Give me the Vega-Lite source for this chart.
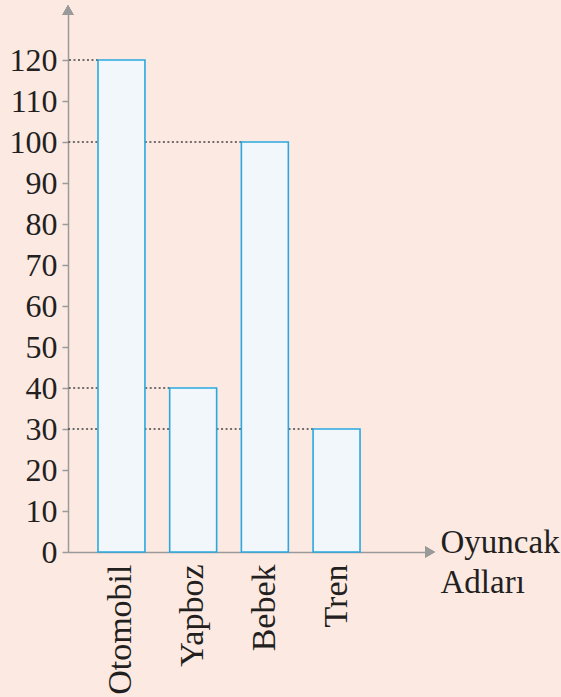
{
  "$schema": "https://vega.github.io/schema/vega-lite/v6.json",
  "autosize": {"type": "none"},
  "padding": {"left": 68, "top": 10, "right": 131, "bottom": 145},
  "width": 362,
  "height": 542,
  "background": "#fce9e2",
  "config": {
    "view": {"stroke": null},
    "font": "Liberation Serif"
  },
  "data": {
    "values": [
      {"oyuncak": "Otomobil", "sayi": 120},
      {"oyuncak": "Yapboz", "sayi": 40},
      {"oyuncak": "Bebek", "sayi": 100},
      {"oyuncak": "Tren", "sayi": 30}
    ]
  },
  "encoding": {
    "x": {
      "field": "oyuncak",
      "type": "nominal",
      "sort": null,
      "scale": {"paddingInner": 0.345, "paddingOuter": 0.697, "align": 0.3},
      "axis": {
        "title": ["Oyuncak", "Adları"],
        "titleX": 372,
        "titleY": 0,
        "titleAlign": "left",
        "titleBaseline": "alphabetic",
        "titleAngle": 0,
        "titleFont": "Liberation Serif",
        "titleFontSize": 33,
        "titleFontWeight": "normal",
        "titleColor": "#231f20",
        "titleLineHeight": 40,
        "labelAngle": -90,
        "labelAlign": "right",
        "labelBaseline": "middle",
        "labelPadding": 12,
        "labelFont": "Liberation Serif",
        "labelFontSize": 34,
        "labelColor": "#231f20",
        "ticks": false,
        "domainColor": "#9a9a9a",
        "domainWidth": 1.5
      }
    },
    "y": {
      "field": "sayi",
      "type": "quantitative",
      "scale": {"domain": [0, 132.2], "nice": false},
      "axis": {
        "title": null,
        "values": [0, 10, 20, 30, 40, 50, 60, 70, 80, 90, 100, 110, 120],
        "grid": false,
        "tickSize": 6,
        "tickColor": "#9a9a9a",
        "tickWidth": 1.5,
        "domainColor": "#9a9a9a",
        "domainWidth": 1.5,
        "labelFont": "Liberation Serif",
        "labelFontSize": 32,
        "labelColor": "#231f20",
        "labelPadding": 5
      }
    }
  },
  "layer": [
    {
      "mark": {"type": "rule", "strokeDash": [2, 2.5], "color": "#444444", "strokeWidth": 1.3},
      "encoding": {
        "x": {"field": "oyuncak", "type": "nominal", "sort": null, "bandPosition": 0},
        "x2": {"value": 0}
      }
    },
    {
      "mark": {"type": "bar", "fill": "#f2f7fc", "stroke": "#29a9e0", "strokeWidth": 1.6}
    },
    {
      "mark": {"type": "point", "shape": "triangle-up", "filled": true, "color": "#9a9a9a", "size": 130, "opacity": 1, "x": 0},
      "encoding": {
        "x": null,
        "y": {"datum": 132.2, "type": "quantitative"}
      }
    },
    {
      "mark": {"type": "point", "shape": "triangle-right", "filled": true, "color": "#9a9a9a", "size": 130, "opacity": 1, "x": "width"},
      "encoding": {
        "x": null,
        "y": {"datum": 0, "type": "quantitative"}
      }
    }
  ]
}
